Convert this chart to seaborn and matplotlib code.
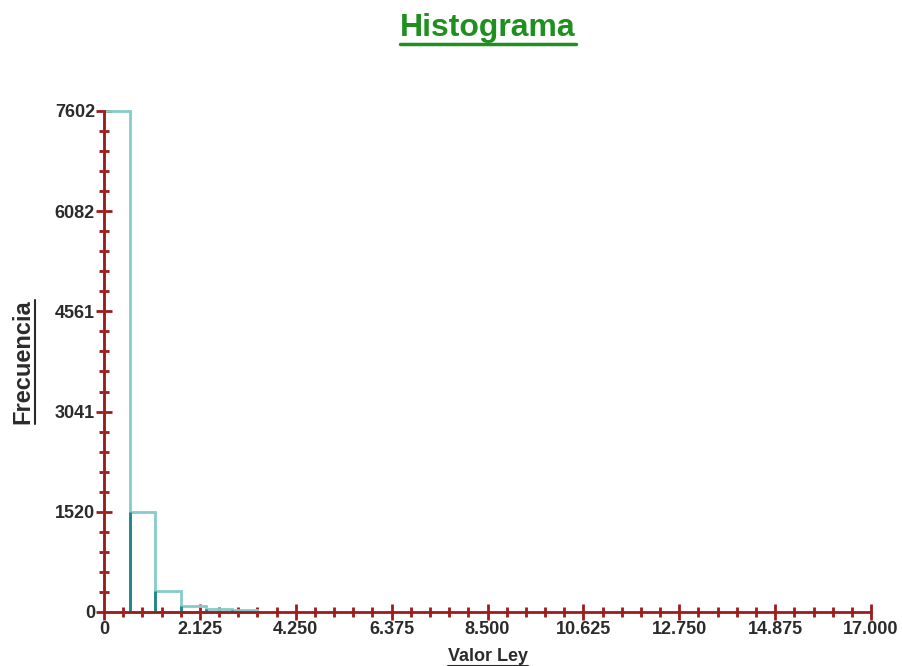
import numpy as np
import pandas as pd
import matplotlib
matplotlib.use("Agg")
import matplotlib.pyplot as plt
from matplotlib.ticker import AutoMinorLocator, FixedLocator
from matplotlib.lines import Line2D
import seaborn as sns

# Histogram of grade values: bin edges and counts per bin
bin_edges = [0.0, 0.5667, 1.1333, 1.7, 2.2667, 2.8333, 3.4]
bin_counts = [7602, 1520, 318, 90, 50, 28]

x_ticks = [0, 2.125, 4.25, 6.375, 8.5, 10.625, 12.75, 14.875, 17.0]
x_tick_labels = ["0", "2.125", "4.250", "6.375", "8.500", "10.625",
                 "12.750", "14.875", "17.000"]
y_ticks = [0, 1520.4, 3040.8, 4561.2, 6081.6, 7602]
y_tick_labels = ["0", "1520", "3041", "4561", "6082", "7602"]

AXIS_RED = "#9e1b1b"
TEAL_LIGHT = "#86cccc"
TEAL_DARK = "#1f8585"
TEXT_DARK = "#2b2b2b"
TITLE_GREEN = "#1f8f1f"

sns.set_style("white")
plt.rcParams["font.family"] = ["Liberation Sans", "DejaVu Sans"]

fig = plt.figure(figsize=(9.03, 6.66), dpi=100)
ax = fig.add_axes([0.1152, 0.0811, 0.8494, 0.7523])

edges = np.array(bin_edges)
centers = (edges[:-1] + edges[1:]) / 2
df = pd.DataFrame({"valor": centers, "freq": bin_counts})

sns.histplot(data=df, x="valor", weights="freq", bins=bin_edges,
             element="bars", fill=False, color=TEAL_LIGHT,
             linewidth=2, ax=ax)
for p in ax.patches:
    p.set_clip_on(False)
    p.set_edgecolor(TEAL_LIGHT)

# darker left edge on each bar
ax.vlines(edges[1:-1], 0, bin_counts[1:], colors=TEAL_DARK, lw=2, zorder=2.2)

ax.set_xlim(0, 17)
ax.set_ylim(0, 7602)
ax.set_xlabel("")
ax.set_ylabel("")

for side in ("top", "right"):
    ax.spines[side].set_visible(False)
for side in ("left", "bottom"):
    ax.spines[side].set_color(AXIS_RED)
    ax.spines[side].set_linewidth(2)
    ax.spines[side].set_zorder(3)

ax.xaxis.set_major_locator(FixedLocator(x_ticks))
ax.set_xticklabels(x_tick_labels)
ax.yaxis.set_major_locator(FixedLocator(y_ticks))
ax.set_yticklabels(y_tick_labels)
ax.xaxis.set_minor_locator(AutoMinorLocator(5))
ax.yaxis.set_minor_locator(AutoMinorLocator(5))

ax.tick_params(which="both", bottom=True, left=True, top=False, right=False)
ax.tick_params(which="major", direction="inout", length=11, width=2,
               color=AXIS_RED, labelsize=13, labelcolor=TEXT_DARK, pad=1)
ax.tick_params(which="minor", direction="inout", length=7, width=2,
               color=AXIS_RED)
for lbl in ax.get_xticklabels() + ax.get_yticklabels():
    lbl.set_fontweight("bold")

W, H = 903, 666
title = fig.text(488 / W, 1 - 36 / H, "Histograma", ha="center",
                 va="baseline", fontsize=23, fontweight="bold",
                 color=TITLE_GREEN)
xlab = fig.text(488 / W, 1 - 661 / H, "Valor Ley", ha="center",
                va="baseline", fontsize=13, fontweight="bold",
                color=TEXT_DARK)
ylab = fig.text(23 / W, 1 - 362 / H, "Frecuencia", ha="center",
                va="center", rotation=90, fontsize=17, fontweight="bold",
                color=TEXT_DARK)

fig.canvas.draw()
renderer = fig.canvas.get_renderer()


def underline(txt, color, lw, vertical=False, gap=1.0):
    bb = txt.get_window_extent(renderer)
    if vertical:
        x = bb.x1 + gap
        line = Line2D([x / W, x / W], [bb.y0 / H, bb.y1 / H],
                      transform=fig.transFigure, color=color, lw=lw)
    else:
        y = bb.y0 - gap
        line = Line2D([bb.x0 / W, bb.x1 / W], [y / H, y / H],
                      transform=fig.transFigure, color=color, lw=lw)
    fig.add_artist(line)


underline(title, TITLE_GREEN, 2.5, gap=1.0)
underline(xlab, TEXT_DARK, 1.5, gap=0.5)
underline(ylab, TEXT_DARK, 1.5, vertical=True, gap=1.0)

fig.savefig("out.png", dpi=100)
